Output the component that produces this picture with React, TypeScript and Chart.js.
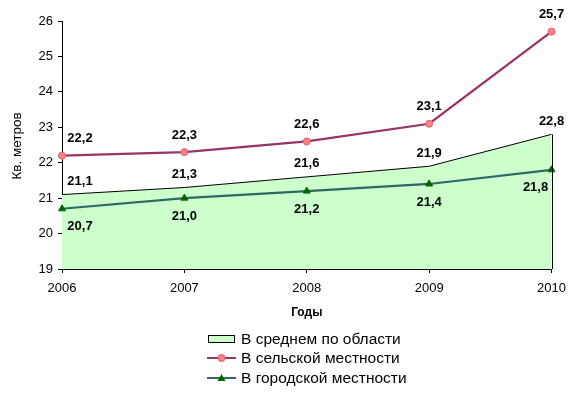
import React, { useEffect, useRef } from "react";
import { Chart, registerables } from "chart.js";

Chart.register(...registerables);

const years = ["2006", "2007", "2008", "2009", "2010"];
const averageRegion = [21.1, 21.3, 21.6, 21.9, 22.8];
const rural = [22.2, 22.3, 22.6, 23.1, 25.7];
const urban = [20.7, 21.0, 21.2, 21.4, 21.8];
const seriesNames = ["В среднем по области", "В сельской местности", "В городской местности"];
const yTitle = "Кв. метров";
const xTitle = "Годы";

const FONT = "'Liberation Sans', Arial, sans-serif";
const fmt = (v: number) => v.toFixed(1).replace(".", ",");

const overlayPlugin = {
  id: "overlay",
  afterDatasetsDraw(chart: any) {
    const ctx = chart.ctx;
    const area = chart.chartArea;
    const m0 = chart.getDatasetMeta(0);
    const last = m0.data[m0.data.length - 1];
    ctx.save();
    ctx.strokeStyle = "#000";
    ctx.lineWidth = 1;
    ctx.beginPath();
    ctx.moveTo(Math.round(last.x) + 0.5, last.y);
    ctx.lineTo(Math.round(last.x) + 0.5, area.bottom);
    ctx.stroke();
    ctx.restore();
  },
  afterDraw(chart: any) {
    const ctx = chart.ctx;
    const area = chart.chartArea;
    ctx.save();
    ctx.font = `bold 13px ${FONT}`;
    ctx.fillStyle = "#000";
    ctx.textAlign = "center";
    ctx.textBaseline = "middle";
    const dyBySeries = [-13, -17, 18];
    chart.data.datasets.forEach((ds: any, di: number) => {
      const meta = chart.getDatasetMeta(di);
      meta.data.forEach((pt: any, i: number) => {
        let dx = 0;
        if (i === 0) dx = 18;
        if (i === meta.data.length - 1 && di === 2) dx = -16;
        ctx.fillText(fmt(ds.data[i]), pt.x + dx, pt.y + dyBySeries[di]);
      });
    });
    ctx.save();
    ctx.font = `13.5px ${FONT}`;
    ctx.translate(17, 146);
    ctx.rotate(-Math.PI / 2);
    ctx.fillText(yTitle, 0, 0);
    ctx.restore();
    ctx.font = `bold 12px ${FONT}`;
    ctx.fillText(xTitle, (area.left + area.right) / 2, 313);
    const lx = 207;
    const rows = [339, 358, 378];
    ctx.textAlign = "left";
    ctx.fillStyle = "#CCFFCC";
    ctx.fillRect(lx + 1, rows[0] - 3.5, 26, 7);
    ctx.strokeStyle = "#000";
    ctx.lineWidth = 1;
    ctx.strokeRect(lx + 1.5, rows[0] - 3.5, 26, 7);
    ctx.strokeStyle = "#993366";
    ctx.lineWidth = 2;
    ctx.beginPath();
    ctx.moveTo(lx, rows[1]);
    ctx.lineTo(lx + 29, rows[1]);
    ctx.stroke();
    ctx.fillStyle = "#FF8080";
    ctx.strokeStyle = "#E06070";
    ctx.lineWidth = 1;
    ctx.beginPath();
    ctx.arc(lx + 14.5, rows[1], 3.5, 0, Math.PI * 2);
    ctx.fill();
    ctx.stroke();
    ctx.strokeStyle = "#336666";
    ctx.lineWidth = 2;
    ctx.beginPath();
    ctx.moveTo(lx, rows[2]);
    ctx.lineTo(lx + 29, rows[2]);
    ctx.stroke();
    ctx.fillStyle = "#006600";
    ctx.beginPath();
    ctx.moveTo(lx + 14.5, rows[2] - 4);
    ctx.lineTo(lx + 18.5, rows[2] + 3);
    ctx.lineTo(lx + 10.5, rows[2] + 3);
    ctx.closePath();
    ctx.fill();
    ctx.fillStyle = "#000";
    ctx.font = `15.5px ${FONT}`;
    ctx.textBaseline = "middle";
    seriesNames.forEach((n, i) => ctx.fillText(n, lx + 34, rows[i] + 1));
    ctx.restore();
  },
};

export default function App() {
  const ref = useRef<HTMLCanvasElement>(null);
  useEffect(() => {
    document.body.style.margin = "0";
    const chart = new Chart(ref.current!, {
      type: "line",
      data: {
        labels: years,
        datasets: [
          {
            label: seriesNames[0],
            data: averageRegion,
            borderColor: "#000",
            borderWidth: 1,
            backgroundColor: "#CCFFCC",
            fill: "start",
            pointRadius: 0,
            tension: 0,
            order: 3,
          },
          {
            label: seriesNames[1],
            data: rural,
            borderColor: "#993366",
            borderWidth: 2.2,
            backgroundColor: "#FF8080",
            pointBackgroundColor: "#FF8080",
            pointBorderColor: "#E06070",
            pointBorderWidth: 1,
            pointRadius: 3.5,
            fill: false,
            tension: 0,
            order: 1,
          },
          {
            label: seriesNames[2],
            data: urban,
            borderColor: "#336666",
            borderWidth: 2.2,
            backgroundColor: "#006600",
            pointBackgroundColor: "#006600",
            pointBorderColor: "#006600",
            pointBorderWidth: 1,
            pointStyle: "triangle",
            pointRadius: 4,
            fill: false,
            tension: 0,
            order: 2,
          },
        ],
      },
      options: {
        animation: false,
        responsive: false,
        layout: { padding: { left: 0, right: 22, top: 21, bottom: 0 } },
        plugins: { legend: { display: false }, tooltip: { enabled: false } },
        scales: {
          x: {
            offset: false,
            grid: { display: true, drawOnChartArea: false, drawTicks: true, tickLength: 4, color: "#000", offset: false },
            border: { display: true, color: "#000", width: 1 },
            ticks: { color: "#000", font: { family: FONT, size: 13 }, padding: 8, maxRotation: 0 },
            afterFit: (s: any) => { s.height = 124; },
          },
          y: {
            min: 19,
            max: 26,
            grid: { display: true, drawOnChartArea: false, drawTicks: true, tickLength: 4, color: "#000" },
            border: { display: true, color: "#000", width: 1 },
            ticks: { stepSize: 1, color: "#000", font: { family: FONT, size: 13 }, padding: 5 },
            afterFit: (s: any) => { s.width = 62; },
          },
        },
      },
      plugins: [overlayPlugin],
    });
    return () => chart.destroy();
  }, []);
  return (
    <div style={{ width: 574, height: 393 }}>
      <canvas ref={ref} width={574} height={393} style={{ display: "block" }} />
    </div>
  );
}
